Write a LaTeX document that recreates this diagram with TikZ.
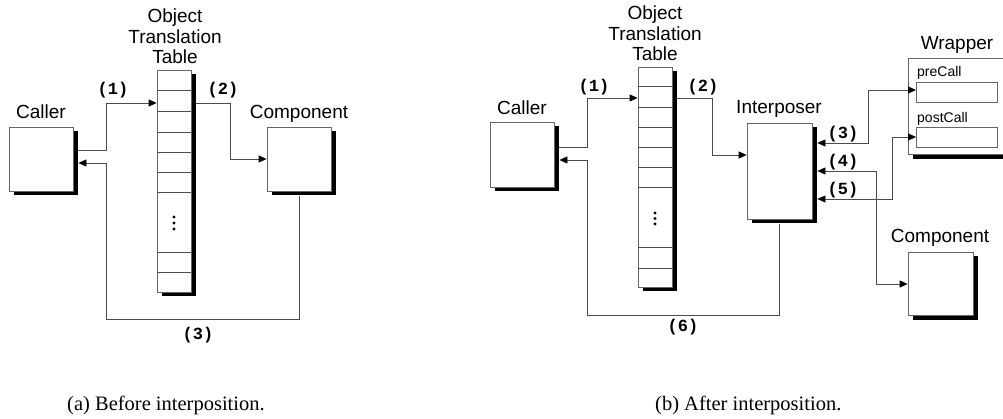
\documentclass[tikz,border=0pt]{standalone}
\usepackage{fontspec}
\setmainfont{Liberation Serif}
\setsansfont{Liberation Sans}
\setmonofont{Liberation Mono}
\usetikzlibrary{arrows.meta,shadows,calc}
\begin{document}
\begin{tikzpicture}[x=1pt,y=-1pt,
  >={Triangle[length=8pt,width=7pt,black]},
  box/.style={draw=black!60, fill=white, line width=0.8pt, inner sep=0pt,
    drop shadow={shadow xshift=4.5pt, shadow yshift=-4.5pt, fill=black, opacity=1}},
  plainbox/.style={draw=black!60, fill=white, line width=0.8pt, inner sep=0pt},
  rowline/.style={draw=black!70, line width=0.8pt},
  conn/.style={draw=black!70, line width=0.8pt},
  lbl/.style={font=\sffamily\fontsize{19}{20.5}\selectfont, inner sep=0pt},
  smalltext/.style={font=\sffamily\fontsize{14}{15}\selectfont, inner sep=0pt},
  num/.style={font=\ttfamily\bfseries\fontsize{17}{17}\selectfont, inner sep=0pt},
  captext/.style={font=\rmfamily\fontsize{20.5}{22}\selectfont, inner sep=0pt},
  dotfill/.style={fill=black}]
\useasboundingbox (0,0) rectangle (1003,419);
\clip (0,0) rectangle (1003,419);

% ---------------- (a) Before interposition ----------------
\node[box, minimum width=64pt, minimum height=64pt] (callerA) at (41,159) {};
\node[box, minimum width=34pt, minimum height=222pt] (ottA) at (174,181) {};
\node[box, minimum width=64pt, minimum height=64pt] (compA) at (299,159) {};
\foreach \yy in {90,111,132,152,172,192,252,272}
  \draw[rowline] (ottA.west |- 0,\yy) -- (ottA.east |- 0,\yy);
\foreach \yy in {217,223,229}
  \fill[dotfill] (174,\yy) circle (1.7);

\node[lbl, anchor=base] (callerAlbl) at (41,119) {Caller};
\node[lbl, anchor=base] (compAlbl) at (299,119) {Component};
\node[lbl, anchor=north, align=center] (ottAlbl) at (175,9) {Object\\Translation\\Table};

\draw[conn,->] ($(callerA.east |- 0,150)+(4.5,0)$) -| (106,103) -- (ottA.west |- 0,103);
\draw[conn,->] ($(compA.south)+(0,5)$) -- (299,319) -| (106,163) -- ($(callerA.east |- 0,163)+(5,0)$);
\draw[conn,->] ($(ottA.east |- 0,103)+(4.5,0)$) -| (230,159) -- (compA.west);

\node[num] (n1a) at (113,90) {(1)};
\node[num] (n2a) at (223,90) {(2)};
\node[num] (n3a) at (198,335) {(3)};

\node[captext, anchor=base west] (capA) at (67,410) {(a) Before interposition.};

% ---------------- (b) After interposition ----------------
\node[box, minimum width=64pt, minimum height=65pt] (callerB) at (522,154.5) {};
\node[box, minimum width=34pt, minimum height=220pt] (ottB) at (655,177) {};
\node[box, minimum width=65pt, minimum height=96pt] (interp) at (779.5,171) {};
\node[box, minimum width=110pt, minimum height=96pt, anchor=north west] (wrap) at (908,58) {};
\node[plainbox, minimum width=81pt, minimum height=20pt, anchor=north west] (pre) at (916,82) {};
\node[plainbox, minimum width=81pt, minimum height=20pt, anchor=north west] (post) at (916,127) {};
\node[box, minimum width=65pt, minimum height=63pt] (compB) at (940.5,283.5) {};
\foreach \yy in {86,107,127,147,167,187,247,268}
  \draw[rowline] (ottB.west |- 0,\yy) -- (ottB.east |- 0,\yy);
\foreach \yy in {213,218.5,224}
  \fill[dotfill] (655,\yy) circle (1.7);

\node[lbl, anchor=base] (callerBlbl) at (522,115) {Caller};
\node[lbl, anchor=north, align=center] (ottBlbl) at (655,6) {Object\\Translation\\Table};
\node[lbl, anchor=base] (interplbl) at (779,114) {Interposer};
\node[lbl, anchor=base] (wraplbl) at (957,50) {Wrapper};
\node[lbl, anchor=base] (compBlbl) at (940,243) {Component};
\node[smalltext, anchor=base west] (prelbl) at (917,77) {preCall};
\node[smalltext, anchor=base west] (postlbl) at (917,123) {postCall};

\draw[conn,->] ($(callerB.east |- 0,147)+(4.5,0)$) -| (587,98) -- (ottB.west |- 0,98);
\draw[conn,->] ($(interp.south)+(0,5)$) -- (779.5,315) -| (587,160) -- ($(callerB.east |- 0,160)+(5,0)$);
\draw[conn,->] ($(ottB.east |- 0,98)+(4.5,0)$) -| (712,155) -- (interp.west |- 0,155);
\draw[conn,<->] ($(interp.east |- 0,143)+(5,0)$) -| (868,90) -- (pre.west |- 0,90);
\draw[conn,<->] ($(interp.east |- 0,171)+(5,0)$) -| (876,284) -- (compB.west |- 0,284);
\draw[conn,<->] ($(interp.east |- 0,199)+(5,0)$) -| (892,137) -- (post.west |- 0,137);

\node[num] (n1b) at (594,87) {(1)};
\node[num] (n2b) at (703,87) {(2)};
\node[num] (n3b) at (843,134) {(3)};
\node[num] (n4b) at (843,162) {(4)};
\node[num] (n5b) at (843,190) {(5)};
\node[num] (n6b) at (683,327) {(6)};

\node[captext, anchor=base west] (capB) at (655,410) {(b) After interposition.};
\end{tikzpicture}
\end{document}
